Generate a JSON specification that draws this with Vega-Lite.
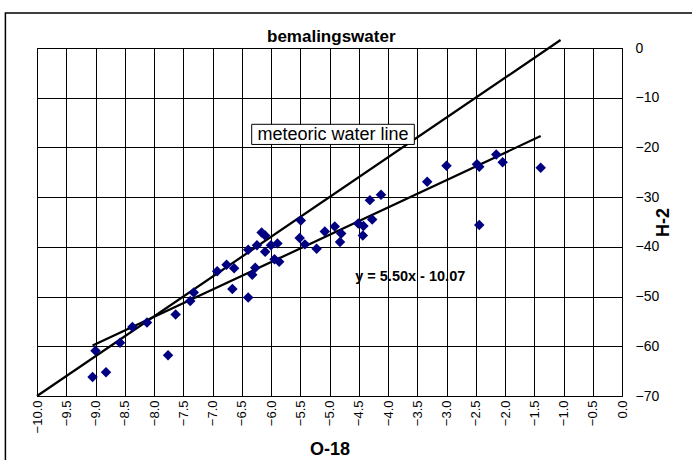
{
  "$schema": "https://vega.github.io/schema/vega-lite/v6.json",
  "width": 585,
  "height": 348,
  "autosize": {"type": "none"},
  "padding": {"left": 37, "top": 48, "right": 70, "bottom": 64},
  "background": "white",
  "config": {
    "font": "Liberation Sans",
    "view": {"stroke": "black", "strokeWidth": 1},
    "axis": {"grid": true, "gridColor": "black", "gridOpacity": 1, "gridWidth": 1, "domain": false, "ticks": false, "labelColor": "black", "labelFont": "Liberation Sans", "labelFontSize": 13, "titleFont": "Liberation Sans", "titleFontWeight": "bold", "titleFontSize": 18, "titleColor": "black", "labelFlush": false, "labelOverlap": false}
  },
  "encoding": {
    "x": {"field": "o18", "type": "quantitative", "title": "O-18",
      "scale": {"domain": [-10, 0], "nice": false, "zero": false},
      "axis": {"values": [-10, -9.5, -9, -8.5, -8, -7.5, -7, -6.5, -6, -5.5, -5, -4.5, -4, -3.5, -3, -2.5, -2, -1.5, -1, -0.5, 0], "format": ".1f", "labelAngle": -90, "labelPadding": 4, "titlePadding": 8, "labelOverlap": false}},
    "y": {"field": "h2", "type": "quantitative", "title": "H-2",
      "scale": {"domain": [-70, 0], "nice": false, "zero": false},
      "axis": {"orient": "right", "values": [-70, -60, -50, -40, -30, -20, -10, 0], "labelPadding": 13, "labelAlign": "left", "labelFontSize": 14, "titleAngle": 270, "titlePadding": 14, "labelOverlap": false}}
  },
  "layer": [
    {
      "data": {"values": [{"o18": -10.54, "o18end": 2, "h2": 7.04, "h2end": -85}]},
      "mark": {"type": "rect", "fill": "transparent", "stroke": "black", "strokeWidth": 1.5, "clip": false},
      "encoding": {
        "x2": {"field": "o18end"},
        "y2": {"field": "h2end"}
      }
    },
    {
      "data": {"values": [{"o18": -10, "h2": -70}, {"o18": -1.05, "h2": 1.6}]},
      "mark": {"type": "line", "color": "black", "strokeWidth": 2.25, "clip": false}
    },
    {
      "data": {"values": [{"o18": -9.05, "h2": -59.85}, {"o18": -1.39, "h2": -17.72}]},
      "mark": {"type": "line", "color": "black", "strokeWidth": 2.25}
    },
    {
      "data": {"values": [
        {"o18": -9.00, "h2": -60.9}, {"o18": -9.05, "h2": -66.2}, {"o18": -8.82, "h2": -65.2}, {"o18": -8.58, "h2": -59.3},
        {"o18": -8.37, "h2": -56.1}, {"o18": -8.12, "h2": -55.2}, {"o18": -7.76, "h2": -61.8}, {"o18": -7.63, "h2": -53.6},
        {"o18": -7.38, "h2": -50.9}, {"o18": -7.32, "h2": -49.2}, {"o18": -6.92, "h2": -44.9}, {"o18": -6.76, "h2": -43.6},
        {"o18": -6.63, "h2": -44.3}, {"o18": -6.66, "h2": -48.5}, {"o18": -6.39, "h2": -50.2}, {"o18": -6.32, "h2": -45.6},
        {"o18": -6.27, "h2": -44.2}, {"o18": -6.39, "h2": -40.6}, {"o18": -6.24, "h2": -39.7}, {"o18": -6.16, "h2": -37.1},
        {"o18": -6.10, "h2": -37.7}, {"o18": -6.10, "h2": -41.0}, {"o18": -6.00, "h2": -39.7}, {"o18": -5.89, "h2": -39.3},
        {"o18": -5.94, "h2": -42.5}, {"o18": -5.86, "h2": -43.0}, {"o18": -5.49, "h2": -34.7}, {"o18": -5.51, "h2": -38.2},
        {"o18": -5.42, "h2": -39.5}, {"o18": -5.22, "h2": -40.4}, {"o18": -5.08, "h2": -36.9}, {"o18": -4.91, "h2": -35.9},
        {"o18": -4.80, "h2": -37.3}, {"o18": -4.82, "h2": -39.0}, {"o18": -4.51, "h2": -35.3}, {"o18": -4.42, "h2": -35.8},
        {"o18": -4.43, "h2": -37.7}, {"o18": -4.27, "h2": -34.5}, {"o18": -4.31, "h2": -30.6}, {"o18": -4.12, "h2": -29.5},
        {"o18": -3.33, "h2": -26.9}, {"o18": -3.00, "h2": -23.7}, {"o18": -2.48, "h2": -23.4}, {"o18": -2.44, "h2": -23.9},
        {"o18": -2.15, "h2": -21.4}, {"o18": -2.04, "h2": -23.0}, {"o18": -1.39, "h2": -24.1}, {"o18": -2.44, "h2": -35.6}
      ]},
      "mark": {"type": "point", "shape": "diamond", "filled": true, "size": 110, "color": "#000080", "opacity": 1}
    },
    {
      "data": {"values": [{"o18": -6.33, "o18end": -3.55, "h2": -15.35, "h2end": -19.4}]},
      "mark": {"type": "rect", "fill": "white", "stroke": "black", "strokeWidth": 1},
      "encoding": {
        "x2": {"field": "o18end"},
        "y2": {"field": "h2end"}
      }
    },
    {
      "data": {"values": [{"o18": -4.94, "h2": -17.4, "label": "meteoric water line"}]},
      "mark": {"type": "text", "fontSize": 18, "font": "Liberation Sans", "color": "black", "align": "center", "baseline": "middle"},
      "encoding": {"text": {"field": "label"}}
    },
    {
      "data": {"values": [{"o18": -3.62, "h2": -46.1, "label": "y = 5.50x - 10.07"}]},
      "mark": {"type": "text", "fontSize": 14.5, "fontWeight": "bold", "font": "Liberation Sans", "color": "black", "align": "center", "baseline": "middle"},
      "encoding": {"text": {"field": "label"}}
    },
    {
      "data": {"values": [{"o18": -4.97, "h2": 1.3, "label": "bemalingswater"}]},
      "mark": {"type": "text", "fontSize": 17, "fontWeight": "bold", "font": "Liberation Sans", "color": "black", "align": "center", "baseline": "alphabetic", "clip": false},
      "encoding": {"text": {"field": "label"}}
    }
  ]
}
